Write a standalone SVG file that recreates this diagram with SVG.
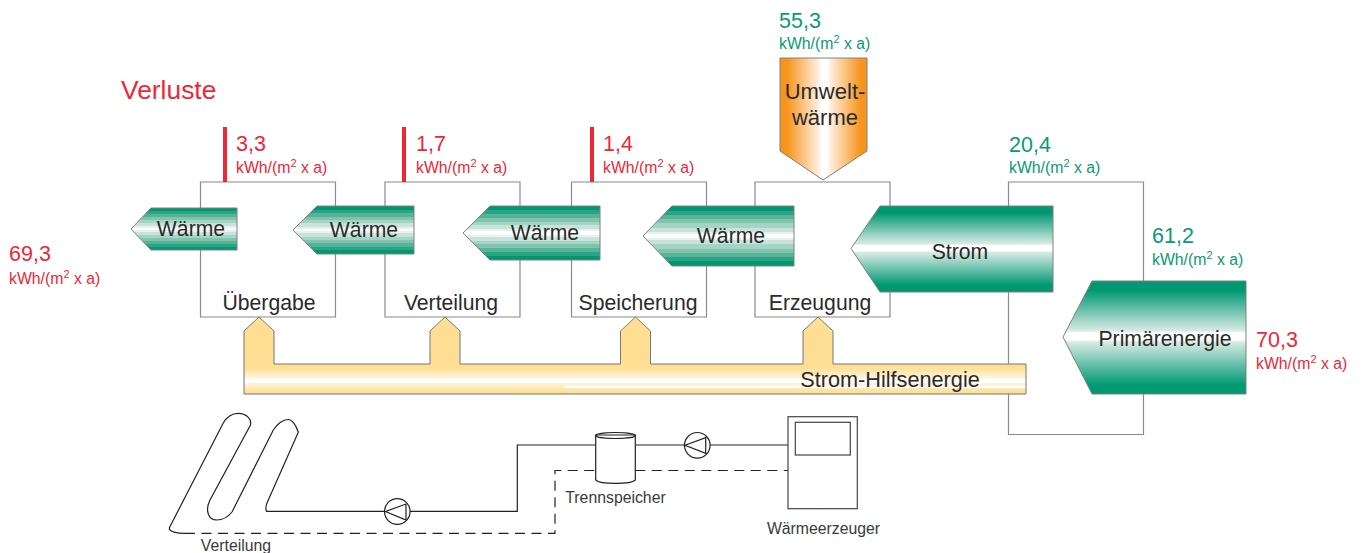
<svg xmlns="http://www.w3.org/2000/svg" width="1362" height="553" viewBox="0 0 1362 553">
<style>
text{font-family:"Liberation Sans",Arial,sans-serif}
.lbl{font-size:21.2px;fill:#2b2a29}
.red{fill:#ee2737}.grn{fill:#0a9a74}
.val{font-size:21.5px}.unit{font-size:15.8px}
.unit .sup{font-size:11px}
.sm{font-size:15.8px;fill:#3a3a3a}
.frame{fill:none;stroke:#8a8a8a;stroke-width:1.2}
.pipe{fill:none;stroke:#222;stroke-width:1.2}
.dash{fill:none;stroke:#222;stroke-width:1.2;stroke-dasharray:10 6.500}
.g{fill:url(#gg);stroke:#808080;stroke-width:1}
.b{fill:url(#gb);stroke:#808080;stroke-width:1}
</style>
<defs>
<linearGradient id="gg" x1="0" y1="0" x2="0" y2="1">
<stop offset="0" stop-color="#009873"/><stop offset=".08" stop-color="#009873"/>
<stop offset=".08" stop-color="#2aa584"/><stop offset=".15" stop-color="#2aa584"/>
<stop offset=".15" stop-color="#55b398"/><stop offset=".22" stop-color="#55b398"/>
<stop offset=".22" stop-color="#80c4ae"/><stop offset=".29" stop-color="#80c4ae"/>
<stop offset=".29" stop-color="#a5d4c4"/><stop offset=".36" stop-color="#a5d4c4"/>
<stop offset=".36" stop-color="#c8e3da"/><stop offset=".43" stop-color="#c8e3da"/>
<stop offset=".43" stop-color="#e6f2ee"/><stop offset=".47" stop-color="#e6f2ee"/>
<stop offset=".47" stop-color="#ffffff"/><stop offset=".53" stop-color="#ffffff"/>
<stop offset=".53" stop-color="#e6f2ee"/><stop offset=".57" stop-color="#e6f2ee"/>
<stop offset=".57" stop-color="#c8e3da"/><stop offset=".64" stop-color="#c8e3da"/>
<stop offset=".64" stop-color="#a5d4c4"/><stop offset=".71" stop-color="#a5d4c4"/>
<stop offset=".71" stop-color="#80c4ae"/><stop offset=".78" stop-color="#80c4ae"/>
<stop offset=".78" stop-color="#55b398"/><stop offset=".85" stop-color="#55b398"/>
<stop offset=".85" stop-color="#2aa584"/><stop offset=".92" stop-color="#2aa584"/>
<stop offset=".92" stop-color="#009873"/><stop offset="1" stop-color="#009873"/>
</linearGradient>
<linearGradient id="gb" x1="0" y1="0" x2="0" y2="1">
<stop offset="0" stop-color="#009873"/><stop offset=".08" stop-color="#009873"/>
<stop offset=".44" stop-color="#d8ebe4"/><stop offset=".46" stop-color="#ffffff"/>
<stop offset=".52" stop-color="#ffffff"/><stop offset=".54" stop-color="#d8ebe4"/>
<stop offset=".92" stop-color="#009873"/><stop offset="1" stop-color="#009873"/>
</linearGradient>
<linearGradient id="og" x1="0" y1="0" x2="1" y2="0">
<stop offset="0" stop-color="#f7941d"/><stop offset=".08" stop-color="#f7941d"/>
<stop offset=".44" stop-color="#feeedd"/><stop offset=".48" stop-color="#ffffff"/>
<stop offset=".54" stop-color="#ffffff"/><stop offset=".58" stop-color="#feeedd"/>
<stop offset=".93" stop-color="#f7941d"/><stop offset="1" stop-color="#f7941d"/>
</linearGradient>
<linearGradient id="yg" gradientUnits="userSpaceOnUse" x1="0" y1="364" x2="0" y2="394">
<stop offset="0" stop-color="#fedf93"/><stop offset=".12" stop-color="#fedf93"/>
<stop offset=".45" stop-color="#fff4da"/><stop offset=".5" stop-color="#ffffff"/>
<stop offset=".6" stop-color="#ffffff"/><stop offset=".65" stop-color="#fff4da"/>
<stop offset=".95" stop-color="#fedf93"/><stop offset="1" stop-color="#fedf93"/>
</linearGradient>
</defs>

<text x="121" y="99" font-size="26.400" class="red">Verluste</text>

<g id="connectors">
<path class="frame" d="M200.500 182H335.500V317H200.500Z"/>
<path class="frame" d="M385 182H520V317H385Z"/>
<path class="frame" d="M571.500 182H706.500V317H571.500Z"/>
<path class="frame" d="M755 182H890V317H755Z"/>
<path class="frame" d="M1008.500 182H1143.500V434.500H1008.500Z"/>
<rect x="223" y="127" width="4" height="55" fill="#ee2737"/>
<rect x="402" y="127" width="4" height="55" fill="#ee2737"/>
<rect x="590" y="127" width="4" height="55" fill="#ee2737"/>
<path class="pipe" d="M266 511.300H385M410 511.300H517.300V445H596M635.300 445H684.500M710.300 445H788"/>
<path class="dash" d="M185 533.300H555V470.500H596"/>
<path class="dash" d="M635.300 470.500H788"/>
</g>

<g id="verlust-1"><text x="236" y="151" class="val red">3,3</text><text x="236" y="173" class="unit red">kWh/(m<tspan class="sup" dy="-6">2</tspan><tspan dy="6"> x a)</tspan></text></g>
<g id="verlust-2"><text x="416" y="151" class="val red">1,7</text><text x="416" y="173" class="unit red">kWh/(m<tspan class="sup" dy="-6">2</tspan><tspan dy="6"> x a)</tspan></text></g>
<g id="verlust-3"><text x="603" y="151" class="val red">1,4</text><text x="603" y="173" class="unit red">kWh/(m<tspan class="sup" dy="-6">2</tspan><tspan dy="6"> x a)</tspan></text></g>
<g id="wert-links"><text x="9" y="261" class="val red">69,3</text><text x="9" y="284" class="unit red">kWh/(m<tspan class="sup" dy="-6">2</tspan><tspan dy="6"> x a)</tspan></text></g>
<g id="wert-umwelt"><text x="779" y="28" class="val grn">55,3</text><text x="779" y="49" class="unit grn">kWh/(m<tspan class="sup" dy="-6">2</tspan><tspan dy="6"> x a)</tspan></text></g>
<g id="wert-strom"><text x="1009" y="152" class="val grn">20,4</text><text x="1009" y="173" class="unit grn">kWh/(m<tspan class="sup" dy="-6">2</tspan><tspan dy="6"> x a)</tspan></text></g>
<g id="wert-primaer-in"><text x="1152" y="243" class="val grn">61,2</text><text x="1152" y="265" class="unit grn">kWh/(m<tspan class="sup" dy="-6">2</tspan><tspan dy="6"> x a)</tspan></text></g>
<g id="wert-primaer"><text x="1256" y="347" class="val red">70,3</text><text x="1256" y="369" class="unit red">kWh/(m<tspan class="sup" dy="-6">2</tspan><tspan dy="6"> x a)</tspan></text></g>

<g id="waerme-1"><path class="g" d="M131 229L151 208H237V250H151Z"/><text x="191" y="236" text-anchor="middle" class="lbl">Wärme</text></g>
<g id="waerme-2"><path class="g" d="M293 230L317 206H414V254H317Z"/><text x="364" y="237" text-anchor="middle" class="lbl">Wärme</text></g>
<g id="waerme-3"><path class="g" d="M463 233L490 206H600V260H490Z"/><text x="545" y="240" text-anchor="middle" class="lbl">Wärme</text></g>
<g id="waerme-4"><path class="g" d="M643 236L672 206H794V266H672Z"/><text x="731" y="243" text-anchor="middle" class="lbl">Wärme</text></g>
<g id="strom"><path class="b" d="M851 248.500L880 206H1053V292H880Z"/><text x="960" y="259" text-anchor="middle" class="lbl">Strom</text></g>
<g id="primaerenergie"><path class="b" d="M1063 337L1092 281H1246V394H1092Z"/><text x="1165" y="346" text-anchor="middle" class="lbl">Primärenergie</text></g>
<g id="umweltwaerme"><path d="M780 58H867V151L823 180L780 151Z" fill="url(#og)" stroke="#808080"/><text x="825" y="98.500" text-anchor="middle" class="lbl" style="font-size:22px">Umwelt-</text><text x="825" y="125" text-anchor="middle" class="lbl" style="font-size:22px">wärme</text></g>

<g id="uebergabe"><text x="269" y="310" text-anchor="middle" class="lbl">Übergabe</text></g>
<g id="verteilung"><text x="451" y="310" text-anchor="middle" class="lbl">Verteilung</text></g>
<g id="speicherung"><text x="638" y="310" text-anchor="middle" class="lbl">Speicherung</text></g>
<g id="erzeugung"><text x="820" y="310" text-anchor="middle" class="lbl">Erzeugung</text></g>

<g id="strom-hilfsenergie"><path d="M244 394V331L259 317L274 331V364H430V331L445 317L460 331V364H620.500V331L635.500 317L650.500 331V364H803V331L818 317L833 331V364H1026V394Z" fill="url(#yg)" stroke="#777"/><rect x="564" y="385.500" width="461" height="2.500" fill="#fff"/><text x="890" y="387" text-anchor="middle" class="lbl" style="font-size:21.700px">Strom-Hilfsenergie</text></g>

<g id="verteilung-schleifen"><path class="pipe" d="M185 533.300C178 533.300 168 532 169.500 527.500L223 423.500C227 416 233 413.300 238.300 413.300C246 413.300 252 419 250.500 425L210 500C205 510 208 520 216.700 520C223 520 228 517 232 512L273.300 430C277 424 283 419.500 288.300 419.500C292 419.500 296 425 298.300 432.300L267 503C265.500 506 265.500 511.300 267 511.300"/><text x="236" y="550.500" text-anchor="middle" class="sm">Verteilung</text></g>
<g id="pumpe-1"><circle class="pipe" cx="397.300" cy="511.500" r="12.800"/><path class="pipe" d="M385.500 511.500L406 504V520Z"/></g>
<g id="trennspeicher"><path d="M595.700 435V480C600 484.500 631 484.500 635.300 480V435Z" fill="#fff" stroke="#222" stroke-width="1.200"/><ellipse class="pipe" cx="615.500" cy="435.500" rx="19.800" ry="3"/><text x="615.500" y="503" text-anchor="middle" class="sm">Trennspeicher</text></g>
<g id="pumpe-2"><circle class="pipe" cx="697.300" cy="445.300" r="12.800"/><path class="pipe" d="M685 445.300L705.700 437.700V453.300Z"/></g>
<g id="waermeerzeuger"><rect class="pipe" x="788" y="416.700" width="69.300" height="92" style="stroke:#444"/><rect class="pipe" x="795.300" y="422.300" width="55" height="32.700" style="stroke:#444"/><text x="823.500" y="533.500" text-anchor="middle" class="sm">Wärmeerzeuger</text></g>
</svg>
